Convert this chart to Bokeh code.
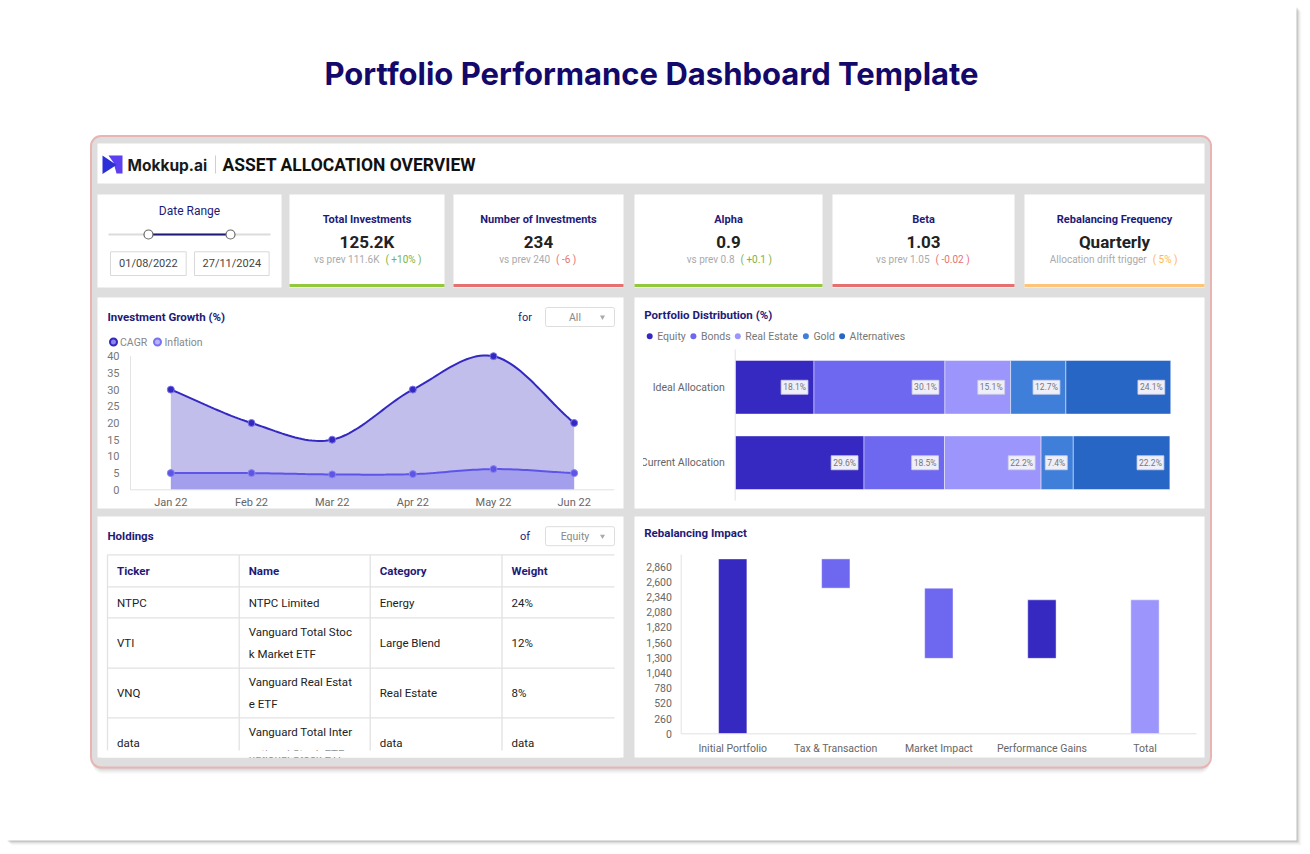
from bokeh.plotting import figure
from bokeh.models import Range1d
from bokeh.core.properties import value
from bokeh.embed import file_html
from bokeh.resources import INLINE

W, H = 1310, 854

# ------------------------------------------------------------------ data
page_title = "Portfolio Performance Dashboard Template"
brand_name = "Mokkup.ai"
dashboard_name = "ASSET ALLOCATION OVERVIEW"

date_label = "Date Range"
date_from = "01/08/2022"
date_to = "27/11/2024"

kpi_titles = ["Total Investments", "Number of Investments", "Alpha", "Beta", "Rebalancing Frequency"]
kpi_values = ["125.2K", "234", "0.9", "1.03", "Quarterly"]
kpi_prev = ["vs prev 111.6K", "vs prev 240", "vs prev 0.8", "vs prev 1.05", "Allocation drift trigger"]
kpi_delta = ["( +10% )", "( -6 )", "( +0.1 )", "( -0.02 )", "( 5% )"]
kpi_status = ["up", "down", "up", "down", "info"]

months = ["Jan 22", "Feb 22", "Mar 22", "Apr 22", "May 22", "Jun 22"]
cagr = [30, 20, 15, 30, 40, 20]
inflation = [5, 5, 4.6, 4.7, 6.2, 5]
growth_ticks = [0, 5, 10, 15, 20, 25, 30, 35, 40]

allocation_rows = ["Ideal Allocation", "Current Allocation"]
asset_classes = ["Equity", "Bonds", "Real Estate", "Gold", "Alternatives"]
ideal_alloc = [18.1, 30.1, 15.1, 12.7, 24.1]
current_alloc = [29.6, 18.5, 22.2, 7.4, 22.2]

holding_columns = ["Ticker", "Name", "Category", "Weight"]
holding_tickers = ["NTPC", "VTI", "VNQ", "data"]
holding_names = ["NTPC Limited", "Vanguard Total Stoc\nk Market ETF",
                 "Vanguard Real Estat\ne ETF", "Vanguard Total Inter\nnational Stock ETF"]
holding_categories = ["Energy", "Large Blend", "Real Estate", "data"]
holding_weights = ["24%", "12%", "8%", "data"]

impact_steps = ["Initial Portfolio", "Tax & Transaction", "Market Impact", "Performance Gains", "Total"]
impact_changes = [2990, -500, -1200, 1000]          # the last bar is the running total
impact_ticks = [0, 260, 520, 780, 1040, 1300, 1560, 1820, 2080, 2340, 2600, 2860]

# ------------------------------------------------------------------ styles
FONT = "Roboto"
NAVY = "#1e1a78"
INK = "#222222"
MUTED = "#777777"
GRID = "#e2e2e2"
ASSET_COLORS = ["#3629C1", "#6E67EF", "#9C95FB", "#3F7FDA", "#2766C5"]
IMPACT_COLORS = ["#3629C1", "#6E67EF", "#6E67EF", "#3629C1", "#9C95FB"]
STATUS_BAR = {"up": "#93c83e", "down": "#e4706f", "info": "#fec57a"}
STATUS_TEXT = {"up": "#7cb342", "down": "#e57373", "info": "#ffb74d"}

p = figure(width=W, height=H, x_range=Range1d(0, W), y_range=Range1d(H, 0),
           x_axis_location=None, y_axis_location=None, toolbar_location=None,
           output_backend="svg", min_border=0, outline_line_color=None,
           background_fill_color="#ffffff", border_fill_color="#ffffff")
p.grid.visible = False


def label(x, y, s, size, color, align="left", bold=False, font=FONT, **kw):
    return p.text(x=[x], y=[y], text=[s], text_font=value(font),
                  text_font_size=value(f"{size}px"), text_color=color,
                  text_align=align, text_baseline="middle",
                  text_font_style="bold" if bold else "normal", **kw)


def box(l, r, t, b, fill="#ffffff", line=None, lw=1.0, radius=0, alpha=1.0):
    p.quad(left=[l], right=[r], top=[t], bottom=[b], fill_color=fill,
           fill_alpha=alpha, line_color=line, line_width=lw, border_radius=radius)


def text_width(s, size):
    w = 0.0
    for ch in s:
        if ch == " ":
            w += 0.25
        elif ch in "()":
            w += 0.33
        elif ch in ".,":
            w += 0.26
        elif ch == "%":
            w += 0.73
        elif ch.isdigit():
            w += 0.56
        elif ch.isupper():
            w += 0.64
        elif ch in "ilj":
            w += 0.24
        elif ch in "rtf":
            w += 0.34
        elif ch in "mw":
            w += 0.82
        else:
            w += 0.53
    return w * size


def smooth_curve(vals, samples=24):
    """Catmull-Rom path through the points, for drawing a smooth line."""
    n = len(vals)
    xs, ys = [], []
    for i in range(n - 1):
        y0, y1 = vals[i], vals[i + 1]
        m0 = (vals[i + 1] - vals[i - 1]) / 2 if i > 0 else vals[1] - vals[0]
        m1 = (vals[i + 2] - vals[i]) / 2 if i + 2 < n else vals[-1] - vals[-2]
        for k in range(samples):
            t = k / samples
            h00 = 2 * t**3 - 3 * t**2 + 1
            h10 = t**3 - 2 * t**2 + t
            h01 = -2 * t**3 + 3 * t**2
            h11 = t**3 - t**2
            xs.append(i + t)
            ys.append(h00 * y0 + h10 * m0 + h01 * y1 + h11 * m1)
    xs.append(n - 1)
    ys.append(vals[-1])
    return xs, ys


# chart scales: each maps a data interval onto a pixel interval of the canvas
x_ranges, y_ranges = {}, {}


def x_scale(name, d0, d1, p0, p1):
    k = (d1 - d0) / (p1 - p0)
    x_ranges[name] = Range1d(start=d0 - p0 * k, end=d0 + (W - p0) * k)


def y_scale(name, d0, d1, p0, p1):
    k = (d1 - d0) / (p1 - p0)
    y_ranges[name] = Range1d(start=d0 + (H - p0) * k, end=d0 - p0 * k)


x_scale("growth_x", -0.5, len(months) - 0.5, 130, 614)
y_scale("growth_y", 0, 40, 489.3, 355.7)
x_scale("dist_x", 0, 100, 734.7, 1169.8)
y_scale("dist_y", 0, 1, 386.75, 462.25)
x_scale("impact_x", -0.5, len(impact_steps) - 0.5, 680.7, 1196)
y_scale("impact_y", 0, 2860, 733.3, 566)
p.extra_x_ranges = x_ranges
p.extra_y_ranges = y_ranges

# ------------------------------------------------------------------ page card + title
for off, a in [(1, 0.10), (2, 0.07), (3, 0.05), (4, 0.03), (5, 0.02)]:
    box(6 + off, 1296 + off, 6 + off, 840 + off, fill="#000000", alpha=a)
box(6, 1296, 6, 840, fill="#ffffff")
label(651, 73, page_title, 31, "#13096b", align="center", bold=True, font="Inter")

# dashboard frame
for off, a in [(2, 0.08), (4, 0.06), (6, 0.04)]:
    box(92, 1209, 137 + off, 767 + off, fill="#000000", alpha=a, radius=10)
box(90.5, 1210.5, 135.5, 767, fill="#dedede", line="#e8b4b4", lw=2, radius=10)

# header
box(97, 1204, 143, 183)
p.patch(x=[108, 122, 122, 116, 113], y=[155, 155, 173, 173, 162], fill_color="#5b3ff0", line_color=None)
p.patch(x=[102, 116, 102], y=[155, 164.5, 173.5], fill_color="#2a2fd8", line_color=None)
label(127, 164.5, brand_name, 15.5, "#1a1a1a", bold=True, font="Inter")
p.segment(x0=[215], y0=[155], x1=[215], y1=[173], line_color="#cfcfcf", line_width=1)
label(222, 164.5, dashboard_name, 17.5, "#111111", bold=True)

# ------------------------------------------------------------------ KPI row
box(97, 281, 194, 287)
label(189, 210, date_label, 12, NAVY, align="center")
p.segment(x0=[108], y0=[234], x1=[270], y1=[234], line_color="#dcdcdc", line_width=2)
p.segment(x0=[148], y0=[234], x1=[230], y1=[234], line_color=NAVY, line_width=2)
p.scatter(x=[148, 230], y=[234, 234], marker="circle", size=9, fill_color="#ffffff",
          line_color="#666666", line_width=1.2)
for (l, r), s in zip([(110, 185.7), (194, 268.6)], [date_from, date_to]):
    box(l, r, 251.3, 275, line="#d9d9d9")
    label((l + r) / 2, 263.3, s, 11, "#444444", align="center")

kpi_spans = [(289, 444), (453, 623), (634, 822), (832, 1014), (1024, 1204)]
for (l, r), title, val, prev, delta, status in zip(kpi_spans, kpi_titles, kpi_values,
                                                   kpi_prev, kpi_delta, kpi_status):
    box(l, r, 194, 287)
    box(l, r, 283.5, 286.5, fill=STATUS_BAR[status])
    cx = (l + r) / 2
    label(cx, 219, title, 11, NAVY, align="center", bold=True)
    label(cx, 241.5, val, 17, INK, align="center", bold=True)
    wg, wd, gap = text_width(prev, 10), text_width(delta, 10), 6
    split = cx + (wg - gap - wd) / 2
    label(split, 258.5, prev, 10, "#aaaaaa", align="right")
    label(split + gap, 258.5, delta, 10, STATUS_TEXT[status])

# ------------------------------------------------------------------ panels
box(97, 623, 297, 508)
box(634, 1204, 297, 508)
box(97, 623, 516, 757)
box(634, 1204, 516, 757)


def dropdown(prefix, choice, y):
    label(524.5, y, prefix, 11, NAVY, align="center")
    box(545, 614, y - 9.5, y + 9.5, line="#dddddd", radius=2)
    label(574.5, y, choice, 10.5, "#888888", align="center")
    p.scatter(x=[602], y=[y], marker="inverted_triangle", size=5, fill_color="#aaaaaa", line_color=None)


# --- Investment Growth
label(107, 316.5, "Investment Growth (%)", 11.5, NAVY, bold=True)
dropdown("for", "All", 316.5)
p.scatter(x=[113, 157], y=[341.5, 341.5], marker="circle", size=7,
          fill_color=["#8c85ee", "#b9b4f8"], line_color=["#3328c0", "#7a72f2"], line_width=2)
label(119.5, 341.5, "CAGR", 10.5, "#888888")
label(164, 341.5, "Inflation", 10.5, "#888888")

G = dict(x_range_name="growth_x", y_range_name="growth_y")
gx = list(range(len(months)))
cx_, cy_ = smooth_curve(cagr)
ix_, iy_ = smooth_curve(inflation)
p.varea(x=cx_, y1=0, y2=cy_, fill_color="#3629c1", fill_alpha=0.3, **G)
p.varea(x=ix_, y1=0, y2=iy_, fill_color="#6e67ef", fill_alpha=0.35, **G)
p.segment(x0=[-0.5], y0=[0], x1=[len(months) - 0.5], y1=[0], line_color=GRID, line_width=1, **G)
p.segment(x0=[-0.5], y0=[0], x1=[-0.5], y1=[40], line_color=GRID, line_width=1, **G)
p.line(x=ix_, y=iy_, line_color="#5d55e8", line_width=2, **G)
p.line(x=cx_, y=cy_, line_color="#3328c0", line_width=2, **G)
p.scatter(x=gx, y=inflation, marker="circle", size=7, fill_color="#5d55e8", line_color="#8c85ee", **G)
p.scatter(x=gx, y=cagr, marker="circle", size=7, fill_color="#3328c0", line_color="#7d76e6", **G)
p.text(x=[119] * len(growth_ticks), y=growth_ticks, text=[str(t) for t in growth_ticks],
       text_font=value(FONT), text_font_size=value("11px"), text_color=MUTED,
       text_align="right", text_baseline="middle", y_range_name="growth_y")
p.text(x=gx, y=[502.3] * len(months), text=months, text_font=value(FONT),
       text_font_size=value("11px"), text_color="#666666", text_align="center",
       text_baseline="middle", x_range_name="growth_x")

# --- Portfolio Distribution
label(643.7, 314, "Portfolio Distribution (%)", 11.5, NAVY, bold=True)
legend_dot_x = [649.2, 692.9, 737.3, 805.4, 841.6]
p.scatter(x=legend_dot_x, y=[335.7] * 5, marker="circle", size=6, fill_color=ASSET_COLORS, line_color=None)
p.text(x=[x + 7.5 for x in legend_dot_x], y=[335.7] * 5, text=asset_classes,
       text_font=value(FONT), text_font_size=value("10.5px"), text_color="#777777",
       text_align="left", text_baseline="middle")

D = dict(x_range_name="dist_x", y_range_name="dist_y")
for row, shares in enumerate([ideal_alloc, current_alloc]):
    lefts, rights, acc = [], [], 0.0
    for s in shares:
        lefts.append(acc)
        acc += s
        rights.append(acc)
    p.hbar(y=[row] * len(shares), height=0.71, left=lefts, right=rights,
           fill_color=ASSET_COLORS, line_color="#ffffff", line_alpha=0.45, line_width=1, **D)
    p.text(x=rights, y=[row] * len(shares), text=[f"{s:.1f}%" for s in shares],
           text_font=value(FONT), text_font_size=value("8.5px"), text_color="#777777",
           text_align="right", text_baseline="middle", x_offset=-6,
           background_fill_color="#efeffa", border_line_color="#d0cfe6", border_line_width=0.8,
           padding=2, **D)
p.segment(x0=[0], y0=[-0.5], x1=[0], y1=[1.5], line_color=GRID, line_width=1, **D)
p.text(x=[724.3] * 2, y=[0, 1], text=allocation_rows, text_font=value(FONT),
       text_font_size=value("10.5px"), text_color="#666666", text_align="right",
       text_baseline="middle", y_range_name="dist_y")
box(634.5, 642.5, 445, 480)   # panel padding clips the long row label

# --- Holdings
label(107, 535.7, "Holdings", 11.5, NAVY, bold=True)
dropdown("of", "Equity", 535.7)
col_edges = [107, 238.7, 369.7, 501.5, 614]
row_edges = [554.3, 586.3, 617.3, 667.7, 717.3]
row_mid = [570, 602, 642.5, 692.5, 742.5]
table_body = [holding_tickers, holding_names, holding_categories, holding_weights]
for ci, col in enumerate(holding_columns):
    tx = col_edges[ci] + 9.5
    label(tx, row_mid[0], col, 11.5, NAVY, bold=True)
    p.text(x=[tx] * len(col), y=row_mid[1:], text=table_body[ci], text_font=value(FONT),
           text_font_size=value("11.5px"), text_color=INK, text_align="left",
           text_baseline="middle", text_line_height=1.6)
box(100, 620, 750, 757)      # rows beyond the panel are scrolled out of view
p.segment(x0=[107] * len(row_edges), y0=row_edges, x1=[614] * len(row_edges), y1=row_edges,
          line_color=GRID, line_width=1.3)
p.segment(x0=col_edges[:-1], y0=[554.3] * 4, x1=col_edges[:-1], y1=[750] * 4,
          line_color=GRID, line_width=1.3)

# --- Rebalancing Impact (waterfall)
label(643.7, 532.7, "Rebalancing Impact", 11.5, NAVY, bold=True)
R = dict(x_range_name="impact_x", y_range_name="impact_y")
bottoms, tops, running = [], [], 0
for c in impact_changes:
    start = running
    running += c
    bottoms.append(min(start, running))
    tops.append(max(start, running))
bottoms.append(0)
tops.append(running)
ix_pos = list(range(len(impact_steps)))
p.vbar(x=ix_pos, width=0.275, bottom=bottoms, top=tops, fill_color=IMPACT_COLORS,
       line_color="#ffffff", line_alpha=0.45, line_width=1, **R)
p.segment(x0=[-0.5], y0=[0], x1=[len(impact_steps) - 0.5], y1=[0], line_color=GRID, **R)
p.segment(x0=[-0.5], y0=[0], x1=[-0.5], y1=[3065], line_color=GRID, **R)
p.text(x=[671.4] * len(impact_ticks), y=impact_ticks, text=[f"{t:,}" for t in impact_ticks],
       text_font=value(FONT), text_font_size=value("10.5px"), text_color="#666666",
       text_align="right", text_baseline="middle", y_range_name="impact_y")
p.text(x=ix_pos, y=[748.3] * len(impact_steps), text=impact_steps, text_font=value(FONT),
       text_font_size=value("10.5px"), text_color="#666666", text_align="center",
       text_baseline="middle", x_range_name="impact_x")

open("out.html", "w").write(file_html(p, INLINE))
